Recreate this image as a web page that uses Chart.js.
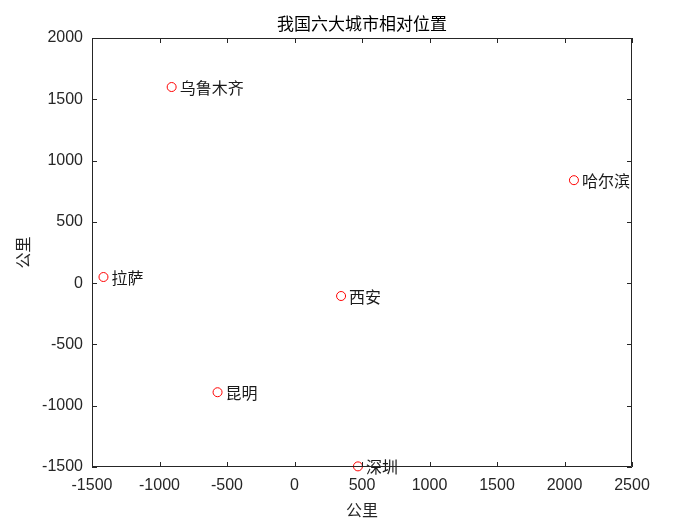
<!DOCTYPE html>
<html>
<head>
<meta charset="utf-8">
<script src="https://cdn.jsdelivr.net/npm/chart.js@4.4.0/dist/chart.umd.min.js"></script>
<style>
  html, body { margin: 0; padding: 0; background: #fff; }
  #wrap { width: 700px; height: 525px; }
</style>
</head>
<body>
<div id="wrap"><canvas id="c"></canvas></div>
<script>
// 城市与坐标（公里）
const cities = ['乌鲁木齐', '哈尔滨', '拉萨', '西安', '昆明', '深圳'];
const xKm = [-910, 2070, -1415, 345, -570, 470];
const yKm = [1600, 840, 50, -105, -890, -1495];
const xTicks = [-1500, -1000, -500, 0, 500, 1000, 1500, 2000, 2500];
const yTicks = [-1500, -1000, -500, 0, 500, 1000, 1500, 2000];
const chartTitle = '我国六大城市相对位置';

const axisColor = '#262626';
const tickFont = { family: 'Liberation Sans, Arial', size: 16 };
const cjkFont = '"Noto Sans CJK SC", sans-serif';

// 점 옆 도시 이름 + 제목 + 박스/안쪽 눈금
const matlabAxes = {
  id: 'matlabAxes',
  afterDatasetsDraw(chart) {
    const ctx = chart.ctx;
    const meta = chart.getDatasetMeta(0);
    ctx.save();
    ctx.fillStyle = '#1a1a1a';
    ctx.font = '16px ' + cjkFont;
    ctx.textAlign = 'left';
    ctx.textBaseline = 'middle';
    meta.data.forEach((pt, i) => {
      ctx.fillText(cities[i], pt.x + 8, pt.y + 1);
    });
    ctx.restore();
  },
  afterDraw(chart) {
    const { ctx, chartArea: a, scales } = chart;
    ctx.save();
    // 제목 (축 영역 중앙)
    ctx.fillStyle = '#000';
    ctx.font = '17px ' + cjkFont;
    ctx.textAlign = 'center';
    ctx.textBaseline = 'middle';
    ctx.fillText(chartTitle, (a.left + a.right) / 2, 24);

    ctx.strokeStyle = axisColor;
    ctx.lineWidth = 1;
    ctx.beginPath();
    ctx.rect(a.left + 0.5, a.top + 0.5, a.right - a.left - 1, a.bottom - a.top - 1);
    xTicks.forEach(v => {
      const px = Math.round(scales.x.getPixelForValue(v)) + 0.5;
      ctx.moveTo(px, a.bottom); ctx.lineTo(px, a.bottom - 5);
      ctx.moveTo(px, a.top); ctx.lineTo(px, a.top + 5);
    });
    yTicks.forEach(v => {
      const py = Math.round(scales.y.getPixelForValue(v)) + 0.5;
      ctx.moveTo(a.left, py); ctx.lineTo(a.left + 5, py);
      ctx.moveTo(a.right, py); ctx.lineTo(a.right - 5, py);
    });
    ctx.stroke();
    ctx.restore();
  }
};

new Chart(document.getElementById('c'), {
  type: 'scatter',
  data: {
    datasets: [{
      data: xKm.map((x, i) => ({ x: x, y: yKm[i] })),
      pointStyle: 'circle',
      pointRadius: 4.5,
      pointHoverRadius: 4.5,
      borderColor: '#ff0000',
      backgroundColor: 'rgba(0,0,0,0)',
      borderWidth: 1,
      clip: false
    }]
  },
  options: {
    responsive: true,
    maintainAspectRatio: false,
    animation: false,
    layout: { padding: { left: 0, right: 68, top: 38, bottom: 0 } },
    plugins: {
      legend: { display: false },
      tooltip: { enabled: false },
      title: { display: false }
    },
    scales: {
      x: {
        type: 'linear',
        min: -1500,
        max: 2500,
        afterBuildTicks: s => { s.ticks = xTicks.map(v => ({ value: v })); },
        afterFit: s => { s.height = 58; },
        grid: { display: false, drawTicks: false },
        border: { display: false },
        ticks: { color: axisColor, font: tickFont, padding: 9, maxRotation: 0, callback: v => String(v) },
        title: {
          display: true, text: '公里', color: axisColor,
          font: { family: cjkFont, size: 16 }, padding: { top: 0, bottom: 5 }
        }
      },
      y: {
        type: 'linear',
        min: -1500,
        max: 2000,
        afterBuildTicks: s => { s.ticks = yTicks.map(v => ({ value: v })); },
        afterFit: s => { s.width = 92; },
        grid: { display: false, drawTicks: false },
        border: { display: false },
        ticks: { color: axisColor, font: tickFont, padding: 9, callback: v => String(v) },
        title: {
          display: true, text: '公里', color: axisColor,
          font: { family: cjkFont, size: 16 }, padding: { top: 13, bottom: 0 }
        }
      }
    }
  },
  plugins: [matlabAxes]
});
</script>
</body>
</html>
